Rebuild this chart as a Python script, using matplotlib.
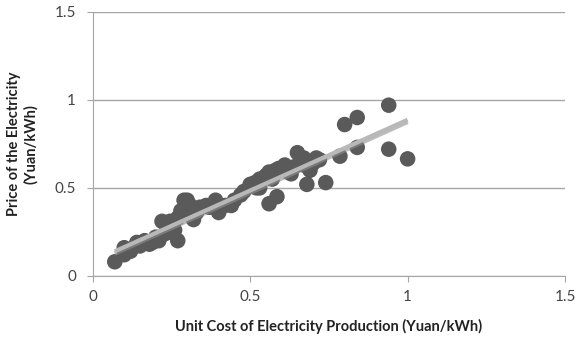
import matplotlib
matplotlib.use("Agg")
import matplotlib.pyplot as plt
import numpy as np

cost = [0.07, 0.10, 0.10, 0.14, 0.165, 0.18, 0.20, 0.21, 0.22, 0.245, 0.26, 0.27,
        0.28, 0.29, 0.28, 0.31, 0.32, 0.34, 0.36, 0.37, 0.39, 0.40, 0.44, 0.47,
        0.48, 0.50, 0.515, 0.53, 0.55, 0.56, 0.58, 0.59, 0.61, 0.56, 0.585, 0.66,
        0.65, 0.67, 0.69, 0.71, 0.68, 0.74, 0.84, 0.80, 0.84, 0.94, 0.94, 1.00,
        0.785, 0.30, 0.12, 0.23, 0.63, 0.52,
        0.25, 0.27, 0.33, 0.42, 0.45, 0.53, 0.57, 0.62, 0.64, 0.67, 0.70, 0.72,
        0.15, 0.19, 0.24, 0.31]
price = [0.08, 0.12, 0.16, 0.19, 0.20, 0.18, 0.22, 0.20, 0.31, 0.31, 0.26, 0.20,
         0.35, 0.43, 0.37, 0.35, 0.32, 0.39, 0.40, 0.39, 0.43, 0.36, 0.40, 0.46,
         0.48, 0.52, 0.53, 0.55, 0.57, 0.59, 0.60, 0.61, 0.63, 0.41, 0.45, 0.64,
         0.70, 0.67, 0.60, 0.67, 0.52, 0.53, 0.73, 0.86, 0.90, 0.97, 0.72, 0.665,
         0.68, 0.43, 0.14, 0.24, 0.58, 0.50,
         0.28, 0.33, 0.36, 0.40, 0.43, 0.50, 0.55, 0.59, 0.62, 0.63, 0.64, 0.66,
         0.17, 0.19, 0.25, 0.40]

xticks = [0, 0.5, 1, 1.5]
yticks = [0, 0.5, 1, 1.5]
xtick_labels = ["0", "0.5", "1", "1.5"]
ytick_labels = ["0", "0.5", "1", "1.5"]

plt.rcParams['font.family'] = ['Lato', 'DejaVu Sans']

fig = plt.figure(figsize=(5.76, 3.41), dpi=100)
ax = fig.add_axes([0.161, 0.191, 0.82, 0.774])

ax.scatter(cost, price, s=125, color='#5a5a5a', edgecolors='none', zorder=3)

coef = np.polyfit(cost, price, 1)
xs = np.array([min(cost), max(cost)])
ax.plot(xs, np.polyval(coef, xs) - 0.012, color='#909090', lw=3.2, alpha=0.6,
        zorder=4, solid_capstyle='butt')
ax.plot(xs, np.polyval(coef, xs), color='#b8b8b8', lw=3.0, zorder=5,
        solid_capstyle='butt')

ax.set_xlim(0, 1.5)
ax.set_ylim(0, 1.5)
ax.set_xticks(xticks)
ax.set_xticklabels(xtick_labels)
ax.set_yticks(yticks)
ax.set_yticklabels(ytick_labels)
ax.yaxis.grid(True, color='#a6a6a6', lw=1)
ax.set_axisbelow(True)
for s in ['top', 'right']:
    ax.spines[s].set_visible(False)
for s in ['left', 'bottom']:
    ax.spines[s].set_color('#a6a6a6')
ax.tick_params(axis='both', colors='#a6a6a6', labelcolor='#444444',
               labelsize=11, length=4)
ax.tick_params(axis='x', pad=6)
ax.tick_params(axis='y', pad=8)

ax.set_xlabel('Unit Cost of Electricity Production (Yuan/kWh)', fontsize=10.5,
              fontweight='bold', color='#222222', labelpad=11)
ax.set_ylabel('Price of the Electricity\n(Yuan/kWh)', fontsize=10.5,
              fontweight='bold', color='#222222', labelpad=12)

fig.savefig('out.png', dpi=100)
